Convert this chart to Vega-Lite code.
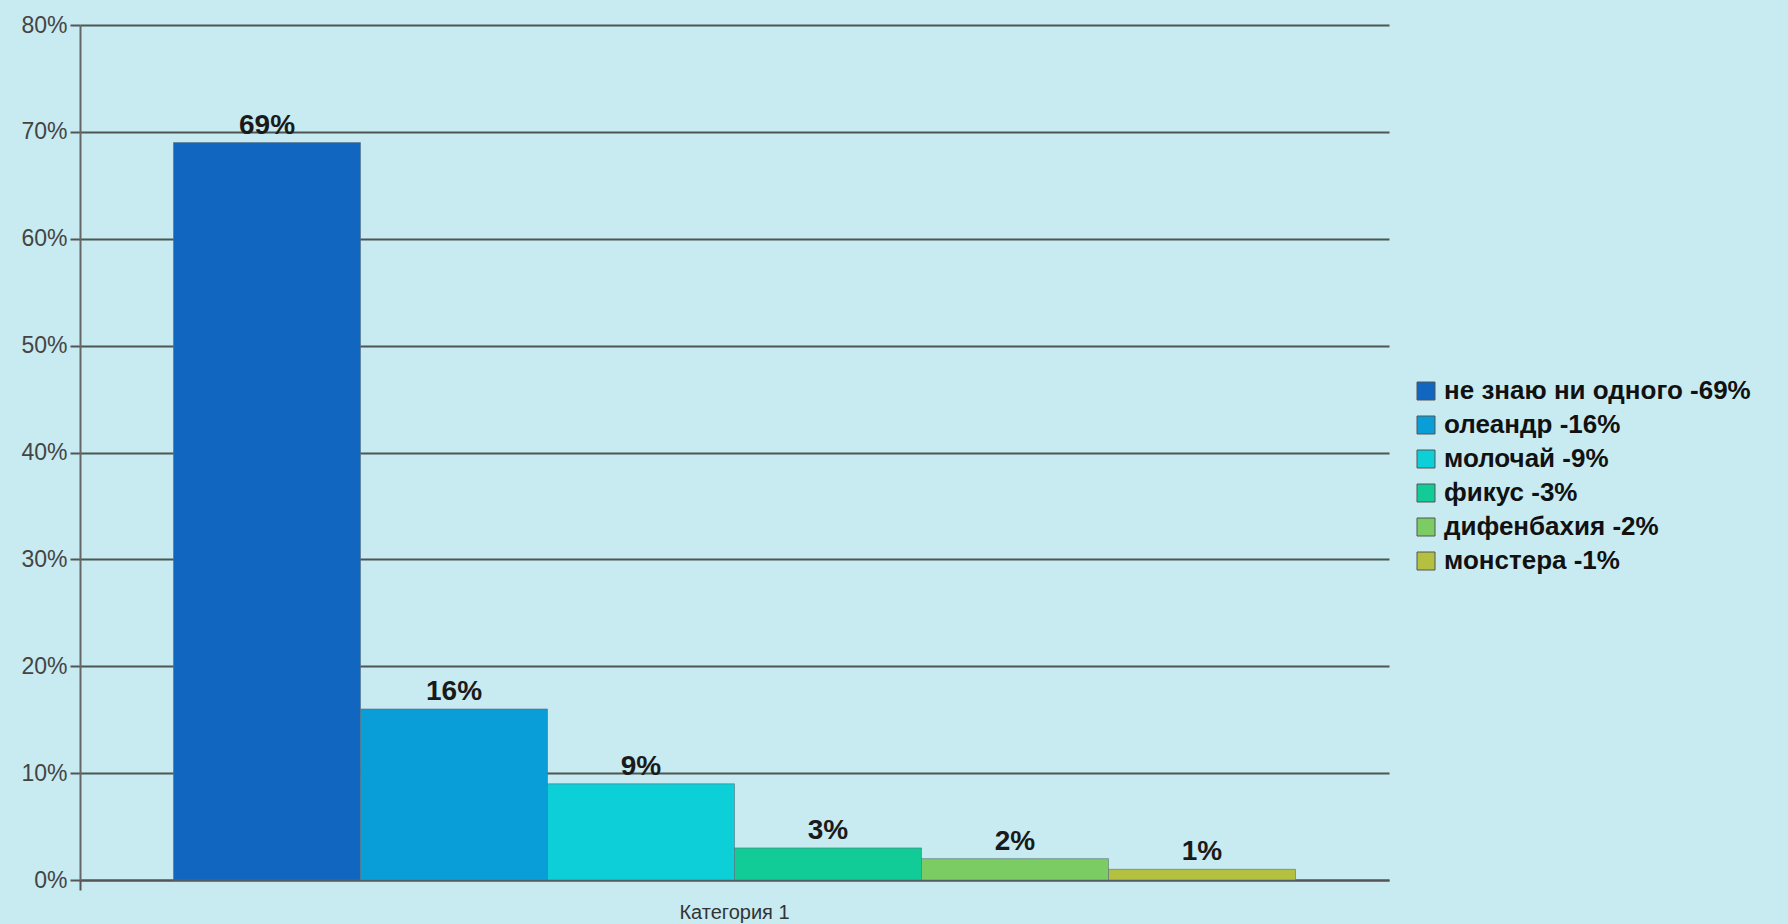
{
  "$schema": "https://vega.github.io/schema/vega-lite/v6.json",
  "width": 1309,
  "height": 855,
  "autosize": {"type": "none"},
  "padding": {"left": 80, "top": 25, "right": 399, "bottom": 44},
  "background": "#c8ebf1",
  "config": {"view": {"stroke": null}, "font": "Liberation Sans"},
  "data": {
    "values": [
      {"category": "Категория 1", "series": "не знаю ни одного -69%", "value": 0.69},
      {"category": "Категория 1", "series": "олеандр -16%", "value": 0.16},
      {"category": "Категория 1", "series": "молочай -9%", "value": 0.09},
      {"category": "Категория 1", "series": "фикус -3%", "value": 0.03},
      {"category": "Категория 1", "series": "дифенбахия -2%", "value": 0.02},
      {"category": "Категория 1", "series": "монстера -1%", "value": 0.01}
    ]
  },
  "encoding": {
    "x": {
      "field": "category",
      "type": "nominal",
      "scale": {"paddingInner": 0, "paddingOuter": 0},
      "axis": {
        "title": null,
        "labelAngle": 0,
        "labelFontSize": 20,
        "labelColor": "#333333",
        "ticks": true,
        "bandPosition": 0,
        "tickSize": 10,
        "tickColor": "#555555",
        "tickWidth": 2,
        "domainColor": "#555555",
        "domainWidth": 2,
        "labelPadding": 12
      }
    },
    "xOffset": {
      "field": "series",
      "type": "nominal",
      "scale": {
        "domain": ["не знаю ни одного -69%", "олеандр -16%", "молочай -9%", "фикус -3%", "дифенбахия -2%", "монстера -1%"],
        "paddingInner": 0,
        "paddingOuter": 0.5
      }
    },
    "y": {
      "field": "value",
      "type": "quantitative",
      "scale": {"domain": [0, 0.8]},
      "axis": {
        "title": null,
        "values": [0, 0.1, 0.2, 0.3, 0.4, 0.5, 0.6, 0.7, 0.8],
        "format": ".0%",
        "labelFontSize": 23,
        "labelColor": "#444444",
        "tickSize": 10,
        "tickColor": "#555555",
        "tickWidth": 2,
        "gridColor": "#4d5555",
        "gridWidth": 2,
        "domainColor": "#666666",
        "domainWidth": 2,
        "labelPadding": 3
      }
    }
  },
  "layer": [
    {
      "mark": {"type": "bar", "stroke": "#5a7080", "strokeWidth": 1, "strokeOpacity": 0.6},
      "encoding": {
        "color": {
          "field": "series",
          "type": "nominal",
          "scale": {
            "domain": ["не знаю ни одного -69%", "олеандр -16%", "молочай -9%", "фикус -3%", "дифенбахия -2%", "монстера -1%"],
            "range": ["#1166c0", "#0a9ed8", "#0ccfd8", "#12cc98", "#7ccc64", "#b4c040"]
          },
          "legend": {
            "title": null,
            "orient": "none",
            "legendX": 1333,
            "legendY": 353,
            "padding": 0,
            "symbolType": "square",
            "symbolSize": 324,
            "symbolStrokeColor": "#555555",
            "symbolStrokeWidth": 1,
            "labelFontSize": 26,
            "labelFontWeight": "bold",
            "labelColor": "#111111",
            "labelOffset": 5,
            "rowPadding": 8,
            "labelLimit": 500
          }
        }
      }
    },
    {
      "mark": {"type": "text", "baseline": "bottom", "dy": -3, "fontSize": 28, "fontWeight": "bold", "color": "#1a1a1a"},
      "encoding": {
        "text": {"field": "value", "type": "quantitative", "format": ".0%"}
      }
    }
  ]
}
